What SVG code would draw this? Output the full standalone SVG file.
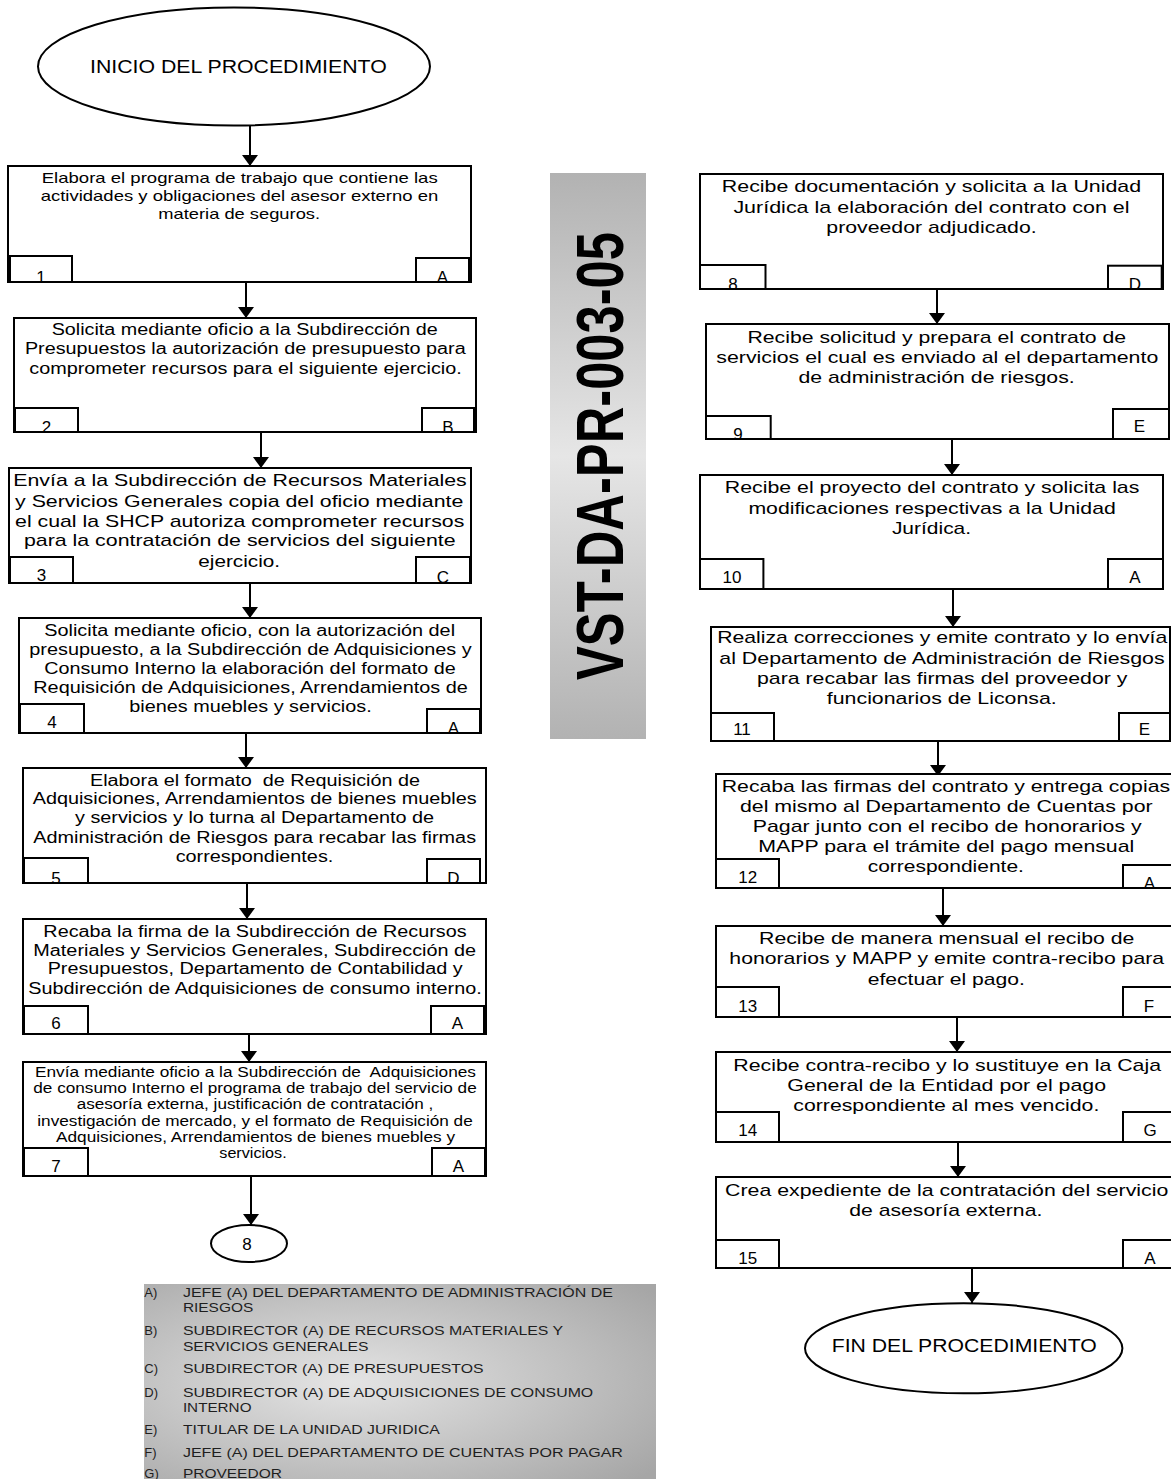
<svg xmlns="http://www.w3.org/2000/svg" width="1171" height="1479" viewBox="0 0 1171 1479">
<defs>
<style>
.box{fill:#fff;stroke:#000;stroke-width:2}
.tag{fill:#fff;stroke:#000;stroke-width:2}
.oval{fill:#fff;stroke:#000;stroke-width:2}
.tx{font-family:"Liberation Sans",Arial,sans-serif;fill:#000;text-anchor:middle}
.lg{font-family:"Liberation Sans",Arial,sans-serif;fill:#1e1e1e;font-size:13px}
.conn{stroke:#000;stroke-width:2;fill:none;marker-end:url(#ah)}
.s14{font-size:15px}.s13{font-size:14px}.s15{font-size:16px}.s16{font-size:17px}.lb{font-size:17px}
</style>
<marker id="ah" markerUnits="userSpaceOnUse" markerWidth="12" markerHeight="16" refX="11" refY="8" orient="auto">
<path d="M0,0 L11,8 L0,16 z" fill="#000"/>
</marker>
<linearGradient id="band" x1="0" y1="0" x2="0" y2="1">
<stop offset="0" stop-color="#b2b2b2"/>
<stop offset="0.5" stop-color="#e6e6e6"/>
<stop offset="1" stop-color="#b2b2b2"/>
</linearGradient>
<radialGradient id="leg" cx="0.4" cy="0.5" r="0.75">
<stop offset="0" stop-color="#e4e4e4"/>
<stop offset="1" stop-color="#a6a6a6"/>
</radialGradient>
</defs>
<rect width="1171" height="1479" fill="#fff"/>

<g id="connectors">
<line class="conn" x1="250" y1="126" x2="250" y2="166"/>
<line class="conn" x1="246" y1="283" x2="246" y2="318"/>
<line class="conn" x1="261" y1="433" x2="261" y2="468"/>
<line class="conn" x1="250" y1="584" x2="250" y2="618"/>
<line class="conn" x1="246" y1="734" x2="246" y2="768"/>
<line class="conn" x1="247" y1="884" x2="247" y2="919"/>
<line class="conn" x1="249" y1="1035" x2="249" y2="1062"/>
<line class="conn" x1="251" y1="1177" x2="251" y2="1225"/>
<line class="conn" x1="937" y1="290" x2="937" y2="324"/>
<line class="conn" x1="952" y1="440" x2="952" y2="475"/>
<line class="conn" x1="953" y1="590" x2="953" y2="627"/>
<line class="conn" x1="938" y1="742" x2="938" y2="776"/>
<line class="conn" x1="943" y1="889" x2="943" y2="926"/>
<line class="conn" x1="957" y1="1018" x2="957" y2="1052"/>
<line class="conn" x1="958" y1="1143" x2="958" y2="1177"/>
<line class="conn" x1="972" y1="1269" x2="972" y2="1303"/>
</g>

<g id="inicio">
<ellipse class="oval" cx="234" cy="66.5" rx="196" ry="59"/>
<text class="tx" x="238.4" y="73.3" font-size="18.5" textLength="296.7" lengthAdjust="spacingAndGlyphs">INICIO DEL PROCEDIMIENTO</text>
</g>

<g id="n1">
<rect class="box" x="8" y="166" width="463" height="116"/>
<rect class="tag" x="10" y="256" width="62" height="26"/>
<rect class="tag" x="416" y="258" width="53" height="24"/>
<text class="tx s14" x="239.7" y="183.3" textLength="396" lengthAdjust="spacingAndGlyphs">Elabora el programa de trabajo que contiene las</text>
<text class="tx s14" x="239.5" y="201" textLength="397.6" lengthAdjust="spacingAndGlyphs">actividades y obligaciones del asesor externo en</text>
<text class="tx s14" x="239.2" y="219" textLength="161.7" lengthAdjust="spacingAndGlyphs">materia de seguros.</text>
<text class="tx lb" x="41" y="283">1</text>
<text class="tx lb" x="442.5" y="283">A</text>
</g>

<g id="n2">
<rect class="box" x="14" y="318" width="462" height="114"/>
<rect class="tag" x="15" y="408" width="63" height="24"/>
<rect class="tag" x="422" y="408" width="52" height="24"/>
<text class="tx s15" x="244.7" y="335" textLength="386" lengthAdjust="spacingAndGlyphs">Solicita mediante oficio a la Subdirección de</text>
<text class="tx s15" x="245.3" y="354.3" textLength="440.7" lengthAdjust="spacingAndGlyphs">Presupuestos la autorización de presupuesto para</text>
<text class="tx s15" x="245.5" y="374" textLength="432.4" lengthAdjust="spacingAndGlyphs">comprometer recursos para el siguiente ejercicio.</text>
<text class="tx lb" x="46.5" y="433">2</text>
<text class="tx lb" x="448" y="433">B</text>
</g>

<g id="n3">
<rect class="box" x="9" y="468" width="462" height="115"/>
<rect class="tag" x="10" y="557" width="63" height="26"/>
<rect class="tag" x="416" y="557" width="54" height="26"/>
<text class="tx s16" x="240" y="486" textLength="453.4" lengthAdjust="spacingAndGlyphs">Envía a la Subdirección de Recursos Materiales</text>
<text class="tx s16" x="239.2" y="506.7" textLength="448.3" lengthAdjust="spacingAndGlyphs">y Servicios Generales copia del oficio mediante</text>
<text class="tx s16" x="239.7" y="526.7" textLength="449.3" lengthAdjust="spacingAndGlyphs">el cual la SHCP autoriza comprometer recursos</text>
<text class="tx s16" x="239.8" y="546" textLength="431.7" lengthAdjust="spacingAndGlyphs">para la contratación de servicios del siguiente</text>
<text class="tx s16" x="239.2" y="566.7" textLength="81.7" lengthAdjust="spacingAndGlyphs">ejercicio.</text>
<text class="tx lb" x="41.5" y="581">3</text>
<text class="tx lb" x="443" y="583">C</text>
</g>

<g id="n4">
<rect class="box" x="19" y="618" width="462" height="115"/>
<rect class="tag" x="20" y="704" width="64" height="29"/>
<rect class="tag" x="427" y="709" width="53" height="24"/>
<text class="tx s15" x="249.7" y="636" textLength="410.7" lengthAdjust="spacingAndGlyphs">Solicita mediante oficio, con la autorización del</text>
<text class="tx s15" x="250.5" y="655" textLength="442.4" lengthAdjust="spacingAndGlyphs">presupuesto, a la Subdirección de Adquisiciones y</text>
<text class="tx s15" x="250" y="674" textLength="411.4" lengthAdjust="spacingAndGlyphs">Consumo Interno la elaboración del formato de</text>
<text class="tx s15" x="250.5" y="692.7" textLength="434.4" lengthAdjust="spacingAndGlyphs">Requisición de Adquisiciones, Arrendamientos de</text>
<text class="tx s15" x="250.5" y="711.7" textLength="242.4" lengthAdjust="spacingAndGlyphs">bienes muebles y servicios.</text>
<text class="tx lb" x="52" y="728">4</text>
<text class="tx lb" x="453.5" y="734">A</text>
</g>

<g id="n5">
<rect class="box" x="23" y="768" width="463" height="115"/>
<rect class="tag" x="24" y="858" width="64" height="25"/>
<rect class="tag" x="427" y="859" width="53" height="24"/>
<text class="tx s15" x="255" y="785.7" textLength="330" lengthAdjust="spacingAndGlyphs" xml:space="preserve">Elabora el formato  de Requisición de</text>
<text class="tx s15" x="254.7" y="804" textLength="444" lengthAdjust="spacingAndGlyphs">Adquisiciones, Arrendamientos de bienes muebles</text>
<text class="tx s15" x="254.5" y="823.3" textLength="359" lengthAdjust="spacingAndGlyphs">y servicios y lo turna al Departamento de</text>
<text class="tx s15" x="254.7" y="842.7" textLength="442.7" lengthAdjust="spacingAndGlyphs">Administración de Riesgos para recabar las firmas</text>
<text class="tx s15" x="254.5" y="861.7" textLength="157.7" lengthAdjust="spacingAndGlyphs">correspondientes.</text>
<text class="tx lb" x="56" y="884">5</text>
<text class="tx lb" x="453.5" y="884">D</text>
</g>

<g id="n6">
<rect class="box" x="23" y="919" width="463" height="115"/>
<rect class="tag" x="24" y="1006" width="64" height="28"/>
<rect class="tag" x="431" y="1006" width="53" height="28"/>
<text class="tx s15" x="255" y="936.7" textLength="423.3" lengthAdjust="spacingAndGlyphs">Recaba la firma de la Subdirección de Recursos</text>
<text class="tx s15" x="254.7" y="955.7" textLength="442.7" lengthAdjust="spacingAndGlyphs">Materiales y Servicios Generales, Subdirección de</text>
<text class="tx s15" x="255.2" y="974.3" textLength="415" lengthAdjust="spacingAndGlyphs">Presupuestos, Departamento de Contabilidad y</text>
<text class="tx s15" x="255" y="994" textLength="453.4" lengthAdjust="spacingAndGlyphs">Subdirección de Adquisiciones de consumo interno.</text>
<text class="tx lb" x="56" y="1029">6</text>
<text class="tx lb" x="457.5" y="1029">A</text>
</g>

<g id="n7">
<rect class="box" x="23" y="1062" width="463" height="114"/>
<rect class="tag" x="24" y="1148" width="64" height="28"/>
<rect class="tag" x="432" y="1148" width="53" height="28"/>
<text class="tx s13" x="255.5" y="1076.7" textLength="441" lengthAdjust="spacingAndGlyphs" xml:space="preserve">Envía mediante oficio a la Subdirección de  Adquisiciones</text>
<text class="tx s13" x="255" y="1093.3" textLength="443.4" lengthAdjust="spacingAndGlyphs">de consumo Interno el programa de trabajo del servicio de</text>
<text class="tx s13" x="255" y="1109.3" textLength="356.6" lengthAdjust="spacingAndGlyphs">asesoría externa, justificación de contratación ,</text>
<text class="tx s13" x="255" y="1125.7" textLength="435.4" lengthAdjust="spacingAndGlyphs">investigación de mercado, y el formato de Requisición de</text>
<text class="tx s13" x="255.5" y="1142.3" textLength="399" lengthAdjust="spacingAndGlyphs">Adquisiciones, Arrendamientos de bienes muebles y</text>
<text class="tx s13" x="253" y="1158.3" textLength="67.4" lengthAdjust="spacingAndGlyphs">servicios.</text>
<text class="tx lb" x="56" y="1172">7</text>
<text class="tx lb" x="458.5" y="1172">A</text>
</g>

<g id="c8">
<ellipse class="oval" cx="249" cy="1243.5" rx="38" ry="18.5"/>
<text class="tx s16" x="247" y="1250">8</text>
</g>

<g id="legend">
<rect x="144" y="1284" width="512" height="196" fill="url(#leg)"/>
<text class="lg" x="144.3" y="1296.7">A)</text>
<text class="lg" x="182.9" y="1296.7" textLength="430" lengthAdjust="spacingAndGlyphs">JEFE (A) DEL DEPARTAMENTO DE ADMINISTRACIÓN DE</text>
<text class="lg" x="182.9" y="1312.3" textLength="70.3" lengthAdjust="spacingAndGlyphs">RIESGOS</text>
<text class="lg" x="144.3" y="1335">B)</text>
<text class="lg" x="182.9" y="1335" textLength="380.3" lengthAdjust="spacingAndGlyphs">SUBDIRECTOR (A) DE RECURSOS MATERIALES Y</text>
<text class="lg" x="182.9" y="1350.7" textLength="185.7" lengthAdjust="spacingAndGlyphs">SERVICIOS GENERALES</text>
<text class="lg" x="144.3" y="1373.3">C)</text>
<text class="lg" x="182.9" y="1373.3" textLength="300.7" lengthAdjust="spacingAndGlyphs">SUBDIRECTOR (A) DE PRESUPUESTOS</text>
<text class="lg" x="144.3" y="1396.7">D)</text>
<text class="lg" x="182.9" y="1396.7" textLength="410.3" lengthAdjust="spacingAndGlyphs">SUBDIRECTOR (A) DE ADQUISICIONES DE CONSUMO</text>
<text class="lg" x="182.9" y="1411.7" textLength="68.6" lengthAdjust="spacingAndGlyphs">INTERNO</text>
<text class="lg" x="144.3" y="1434.3">E)</text>
<text class="lg" x="182.9" y="1434.3" textLength="257" lengthAdjust="spacingAndGlyphs">TITULAR DE LA UNIDAD JURIDICA</text>
<text class="lg" x="144.3" y="1457.3">F)</text>
<text class="lg" x="182.9" y="1457.3" textLength="440" lengthAdjust="spacingAndGlyphs">JEFE (A) DEL DEPARTAMENTO DE CUENTAS POR PAGAR</text>
<text class="lg" x="144.3" y="1478.3">G)</text>
<text class="lg" x="182.9" y="1478.3" textLength="99" lengthAdjust="spacingAndGlyphs">PROVEEDOR</text>
</g>

<g id="code-band">
<rect x="550" y="173" width="96" height="566" fill="url(#band)"/>
<text transform="translate(623,456) rotate(-90)" x="0" y="0" font-family="'Liberation Sans',Arial,sans-serif" font-weight="bold" font-size="67" text-anchor="middle" fill="#000" textLength="448" lengthAdjust="spacingAndGlyphs">VST-DA-PR-003-05</text>
</g>

<g id="n8">
<rect class="box" x="700" y="174" width="463" height="115"/>
<rect class="tag" x="700" y="265" width="65.5" height="24"/>
<rect class="tag" x="1108" y="265.7" width="53.7" height="23.3"/>
<text class="tx s16" x="931.5" y="191.7" textLength="419.3" lengthAdjust="spacingAndGlyphs">Recibe documentación y solicita a la Unidad</text>
<text class="tx s16" x="931.5" y="212.7" textLength="396.2" lengthAdjust="spacingAndGlyphs">Jurídica la elaboración del contrato con el</text>
<text class="tx s16" x="931.5" y="233.3" textLength="210.3" lengthAdjust="spacingAndGlyphs">proveedor adjudicado.</text>
<text class="tx lb" x="733" y="290">8</text>
<text class="tx lb" x="1135" y="290">D</text>
</g>

<g id="n9">
<rect class="box" x="706" y="324" width="463" height="115"/>
<rect class="tag" x="706" y="416" width="64.7" height="23"/>
<rect class="tag" x="1113" y="409" width="56" height="30"/>
<text class="tx s16" x="936.8" y="342.7" textLength="378.6" lengthAdjust="spacingAndGlyphs">Recibe solicitud y prepara el contrato de</text>
<text class="tx s16" x="937.3" y="363.3" textLength="441.9" lengthAdjust="spacingAndGlyphs">servicios el cual es enviado al el departamento</text>
<text class="tx s16" x="936.6" y="383.3" textLength="276.2" lengthAdjust="spacingAndGlyphs">de administración de riesgos.</text>
<text class="tx lb" x="738" y="440">9</text>
<text class="tx lb" x="1139.4" y="432">E</text>
</g>

<g id="n10">
<rect class="box" x="700" y="475" width="463" height="114"/>
<rect class="tag" x="700" y="559" width="63.4" height="30"/>
<rect class="tag" x="1108" y="559" width="55" height="30"/>
<text class="tx s16" x="932.1" y="493.3" textLength="414.6" lengthAdjust="spacingAndGlyphs">Recibe el proyecto del contrato y solicita las</text>
<text class="tx s16" x="932.1" y="514" textLength="367.4" lengthAdjust="spacingAndGlyphs">modificaciones respectivas a la Unidad</text>
<text class="tx s16" x="931.5" y="534" textLength="79.2" lengthAdjust="spacingAndGlyphs">Jurídica.</text>
<text class="tx lb" x="732" y="583.3">10</text>
<text class="tx lb" x="1135" y="583.3">A</text>
</g>

<g id="n11">
<rect class="box" x="711" y="627" width="459" height="114"/>
<rect class="tag" x="711" y="713" width="63" height="28"/>
<rect class="tag" x="1119" y="713" width="51" height="28"/>
<text class="tx s16" x="942.2" y="643.3" textLength="450.1" lengthAdjust="spacingAndGlyphs">Realiza correcciones y emite contrato y lo envía</text>
<text class="tx s16" x="942" y="664.3" textLength="445.4" lengthAdjust="spacingAndGlyphs">al Departamento de Administración de Riesgos</text>
<text class="tx s16" x="942.2" y="684.3" textLength="370.4" lengthAdjust="spacingAndGlyphs">para recabar las firmas del proveedor y</text>
<text class="tx s16" x="941.8" y="704.3" textLength="229.9" lengthAdjust="spacingAndGlyphs">funcionarios de Liconsa.</text>
<text class="tx lb" x="742" y="735">11</text>
<text class="tx lb" x="1144.5" y="735">E</text>
</g>

<g id="n12">
<rect class="box" x="716" y="774" width="460" height="114"/>
<rect class="tag" x="716" y="859" width="63" height="29"/>
<rect class="tag" x="1123" y="865" width="53" height="23"/>
<text class="tx s16" x="945.9" y="791.7" textLength="448.3" lengthAdjust="spacingAndGlyphs">Recaba las firmas del contrato y entrega copias</text>
<text class="tx s16" x="946.3" y="812.3" textLength="412.7" lengthAdjust="spacingAndGlyphs">del mismo al Departamento de Cuentas por</text>
<text class="tx s16" x="947.2" y="832.3" textLength="389" lengthAdjust="spacingAndGlyphs">Pagar junto con el recibo de honorarios y</text>
<text class="tx s16" x="946.3" y="852.3" textLength="376" lengthAdjust="spacingAndGlyphs">MAPP para el trámite del pago mensual</text>
<text class="tx s16" x="945.8" y="872.3" textLength="156.3" lengthAdjust="spacingAndGlyphs">correspondiente.</text>
<text class="tx lb" x="747.7" y="882.7">12</text>
<text class="tx lb" x="1149.3" y="889">A</text>
</g>

<g id="n13">
<rect class="box" x="716" y="926" width="460" height="91"/>
<rect class="tag" x="716" y="987" width="63" height="30"/>
<rect class="tag" x="1123" y="987" width="53" height="30"/>
<text class="tx s16" x="946.7" y="944.3" textLength="375.3" lengthAdjust="spacingAndGlyphs">Recibe de manera mensual el recibo de</text>
<text class="tx s16" x="946.7" y="964.3" textLength="434.7" lengthAdjust="spacingAndGlyphs">honorarios y MAPP y emite contra-recibo para</text>
<text class="tx s16" x="946.3" y="985" textLength="157.3" lengthAdjust="spacingAndGlyphs">efectuar el pago.</text>
<text class="tx lb" x="747.7" y="1011.7">13</text>
<text class="tx lb" x="1149" y="1011.7">F</text>
</g>

<g id="n14">
<rect class="box" x="716" y="1052" width="460" height="90"/>
<rect class="tag" x="716" y="1112" width="63" height="30"/>
<rect class="tag" x="1123" y="1112" width="53" height="30"/>
<text class="tx s16" x="947.2" y="1070.7" textLength="427.7" lengthAdjust="spacingAndGlyphs">Recibe contra-recibo y lo sustituye en la Caja</text>
<text class="tx s16" x="946.7" y="1090.7" textLength="318.7" lengthAdjust="spacingAndGlyphs">General de la Entidad por el pago</text>
<text class="tx s16" x="946.3" y="1111" textLength="306" lengthAdjust="spacingAndGlyphs">correspondiente al mes vencido.</text>
<text class="tx lb" x="747.7" y="1135.7">14</text>
<text class="tx lb" x="1150" y="1135.7">G</text>
</g>

<g id="n15">
<rect class="box" x="716" y="1177" width="460" height="91"/>
<rect class="tag" x="716" y="1240" width="63" height="28"/>
<rect class="tag" x="1123" y="1240" width="53" height="28"/>
<text class="tx s16" x="946.7" y="1196" textLength="443.3" lengthAdjust="spacingAndGlyphs">Crea expediente de la contratación del servicio</text>
<text class="tx s16" x="945.8" y="1216" textLength="193" lengthAdjust="spacingAndGlyphs">de asesoría externa.</text>
<text class="tx lb" x="747.7" y="1264">15</text>
<text class="tx lb" x="1150" y="1264">A</text>
</g>

<g id="fin">
<ellipse class="oval" cx="963.7" cy="1348.3" rx="158.7" ry="45"/>
<text class="tx" x="964.2" y="1351.7" font-size="17.5" textLength="265" lengthAdjust="spacingAndGlyphs">FIN DEL PROCEDIMIENTO</text>
</g>
</svg>
